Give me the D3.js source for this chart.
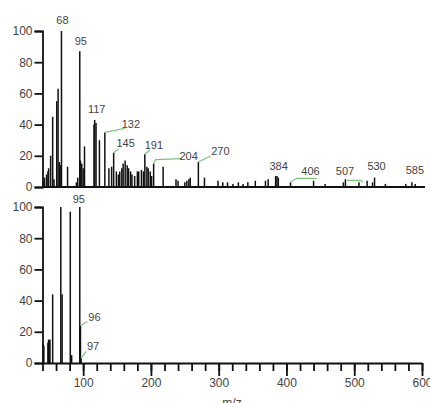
<!DOCTYPE html>
<html>
<head>
<meta charset="utf-8">
<script src="https://cdn.jsdelivr.net/npm/d3@7"></script>
<style>
  body { margin: 0; background: #fff; }
  text { font-family: "Liberation Sans", Arial, sans-serif; fill: #444; }
</style>
</head>
<body>
<div id="chart"></div>
<script>
// spectre du haut (m/z, intensite relative)
const hautMz = [41, 43, 46, 48, 49, 52, 55, 57, 61, 63, 65, 67, 68, 77, 90, 92, 95, 96, 98, 100, 102,
  116, 117, 119, 124, 132, 138, 142, 145, 149, 152, 154, 157, 159, 162, 165, 167, 170, 172, 176, 180,
  182, 186, 189, 191, 194, 196, 199, 201, 204, 218, 237, 240, 250, 253, 256, 258, 270, 279,
  299, 306, 313, 321, 329, 336, 343, 354, 369, 373, 384, 386, 388, 406, 440, 457, 484, 487, 507,
  519, 527, 530, 546, 576, 585, 590];
const hautInt = [4, 6, 8, 10, 12, 20, 45, 5, 55, 63, 16, 14, 100, 13, 3, 6, 87, 17, 15, 12, 26,
  40, 43, 41, 30, 35, 12, 13, 22, 10, 8, 10, 12, 15, 17, 14, 12, 10, 8, 7, 10,
  10, 11, 10, 21, 13, 12, 10, 7, 15, 13, 5, 4, 3, 4, 5, 6, 16, 6,
  4, 3, 3, 2, 3, 2, 3, 4, 4, 5, 7, 7, 6, 3, 4, 2, 3, 5, 3,
  4, 3, 6, 2, 2, 3, 2];

// spectre du bas
const basMz = [41, 42, 48, 49, 50, 51, 55, 67, 69, 81, 83, 95, 96, 97];
const basInt = [12, 11, 13, 15, 14, 15, 44, 100, 44, 97, 5, 100, 24, 3];

// etiquettes des pics
const hautLabels = [68, 95, 117, 132, 145, 191, 204, 270, 384, 406, 507, 530, 585];
const basLabels = [95, 96, 97];

const yTicks = [0, 20, 40, 60, 80, 100];
const xTicks = [100, 200, 300, 400, 500, 600];

// decalage des etiquettes par rapport au sommet du pic (dx, dy) + traits verts
const hautPos = {
  68: [1, -7], 95: [1, -6], 117: [2, -7], 132: [26, -4], 145: [12, -6], 191: [9, -5],
  204: [35, -4], 270: [22, -7], 384: [3, -6], 406: [20, -7], 507: [-14, -7], 530: [2, -8], 585: [3, -8]
};
const hautTraits = {
  132: [[0, 0], [20, -4]], 145: [[0, 0], [5, -4]], 191: [[0, 0], [5, -4]],
  204: [[0, 0], [2, -4], [28, -5]], 270: [[0, 0], [6, -3], [12, -6]],
  406: [[0, 0], [6, -4], [26, -4]], 507: [[-12, -2], [2, -2], [4, 0]]
};
const basPos = { 95: [-1, -4], 96: [14, -5], 97: [12, -8] };
const basTraits = { 96: [[0, 0], [7, -4]], 97: [[0, 0], [5, -7]] };

const largeur = 430, hauteur = 403;
const svg = d3.select("#chart").append("svg").attr("width", largeur).attr("height", hauteur);

const x = d3.scaleLinear().domain([40, 600]).range([42.5, 422]);

function panneau(mz, inten, labels, pos, traits, y0, y1, avecAxeX) {
  const y = d3.scaleLinear().domain([0, 100]).range([y0, y1]);
  const g = svg.append("g");

  // pics
  g.selectAll(".pic").data(mz).enter().append("line")
    .attr("x1", d => x(d)).attr("x2", d => x(d))
    .attr("y1", y(0)).attr("y2", (d, i) => y(inten[i]))
    .attr("stroke", "#111").attr("stroke-width", 1.5);

  // traits verts
  labels.forEach(m => {
    if (!traits[m]) return;
    const i = mz.indexOf(m);
    const px = x(m), py = y(inten[i]);
    g.append("polyline")
      .attr("points", traits[m].map(p => (px + p[0]) + "," + (py + p[1])).join(" "))
      .attr("fill", "none").attr("stroke", "#7cc47c").attr("stroke-width", 1.2);
  });

  // etiquettes
  labels.forEach(m => {
    const i = mz.indexOf(m);
    g.append("text")
      .attr("x", x(m) + pos[m][0]).attr("y", y(inten[i]) + pos[m][1])
      .attr("text-anchor", "middle").attr("font-size", 11)
      .text(m);
  });

  // axe y
  const ay = g.append("g").attr("transform", "translate(" + x(40) + ",0)")
    .call(d3.axisLeft(y).tickValues(yTicks).tickSize(8).tickPadding(2));
  ay.select(".domain").attr("stroke-width", 1.8).attr("stroke", "#111");
  ay.selectAll(".tick line").attr("stroke-width", 1.8).attr("stroke", "#111");
  ay.selectAll("text").attr("font-size", 12).style("font-family", "Liberation Sans, Arial").attr("fill", "#444");

  // axe x
  if (avecAxeX) {
    const ax = g.append("g").attr("transform", "translate(0," + y(0) + ")")
      .call(d3.axisBottom(x).tickValues(d3.range(40, 601, 20)).tickSize(8).tickFormat("").tickSizeOuter(0));
    ax.select(".domain").attr("stroke-width", 1.8).attr("stroke", "#111");
    ax.selectAll(".tick line").attr("stroke-width", 1.8).attr("stroke", "#111");
    const ax2 = g.append("g").attr("transform", "translate(0," + y(0) + ")")
      .call(d3.axisBottom(x).tickValues(xTicks).tickSize(13).tickSizeOuter(0).tickPadding(2));
    ax2.select(".domain").remove();
    ax2.selectAll(".tick line").attr("stroke-width", 1.8).attr("stroke", "#111");
    ax2.selectAll("text").attr("font-size", 12).style("font-family", "Liberation Sans, Arial").attr("fill", "#444");
  } else {
    g.append("line").attr("x1", x(40)).attr("x2", x(600) + 3)
      .attr("y1", y(0)).attr("y2", y(0)).attr("stroke", "#111").attr("stroke-width", 1.8);
  }
}

panneau(hautMz, hautInt, hautLabels, hautPos, hautTraits, 187, 31, false);
panneau(basMz, basInt, basLabels, basPos, basTraits, 363, 207, true);

svg.append("text").attr("x", 232).attr("y", 407).attr("text-anchor", "middle")
  .attr("font-size", 12).text("m/z");
</script>
</body>
</html>
